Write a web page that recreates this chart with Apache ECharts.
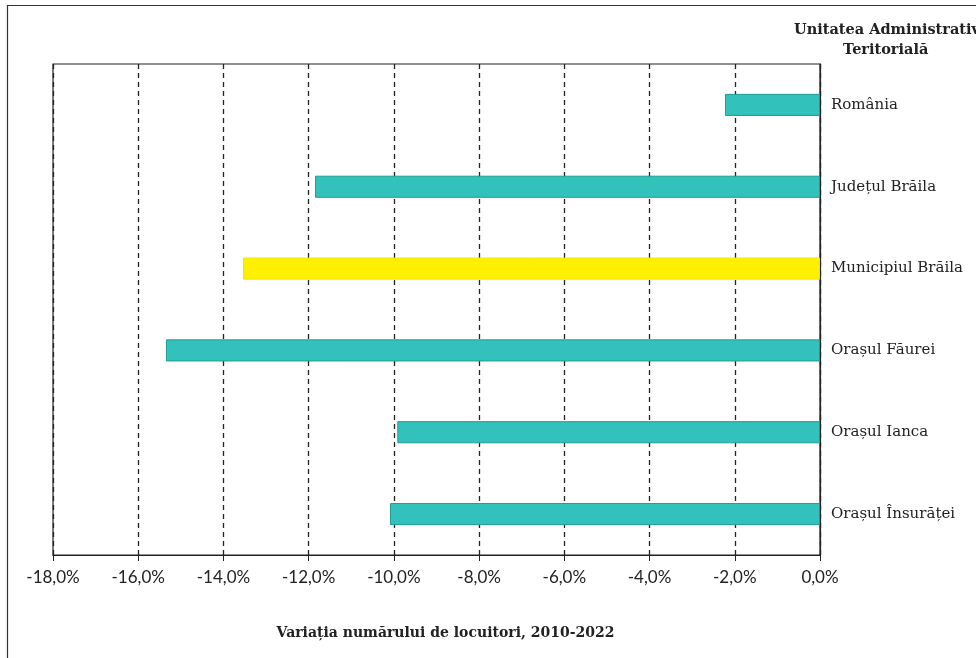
<!DOCTYPE html>
<html>
<head>
<meta charset="utf-8">
<script src="https://cdn.jsdelivr.net/npm/echarts@6/dist/echarts.min.js"></script>
<style>
  html, body { margin: 0; padding: 0; background: #fff; }
  #chart { width: 976px; height: 658px; }
</style>
</head>
<body>
<div id="chart"></div>
<script>
// Population change 2010-2022, by administrative-territorial unit
const categories = ['România', 'Județul Brăila', 'Municipiul Brăila', 'Orașul Făurei', 'Orașul Ianca', 'Orașul Însurăței'];
const variation = [-2.23, -11.85, -13.54, -15.35, -9.92, -10.09];
const highlighted = 'Municipiul Brăila';
const xTicks = { min: -18, max: 0, step: 2 };

const TEAL = '#33c2bb';
const TEAL_EDGE = '#1e9c96';
const YELLOW = '#fff000';
const YELLOW_EDGE = '#f2e400';

const serif = '"DejaVu Serif", "Liberation Serif", serif';
const sans = 'Lato, "Open Sans", sans-serif';

const chart = echarts.init(document.getElementById('chart'));

chart.setOption({
  animation: false,
  backgroundColor: '#ffffff',
  graphic: [
    {
      type: 'rect',
      shape: { x: 7.5, y: 5.5, width: 1000, height: 700 },
      style: { fill: 'none', stroke: '#333', lineWidth: 1.2 },
      silent: true
    },
    {
      type: 'text',
      left: 794, top: 23,
      style: {
        text: 'Unitatea Administrativ',
        font: 'bold 14.5px ' + serif,
        fill: '#222'
      }
    },
    {
      type: 'text',
      left: 843, top: 43,
      style: {
        text: 'Teritorială',
        font: 'bold 14.5px ' + serif,
        fill: '#222'
      }
    }
  ],
  grid: {
    left: 53, right: 156, top: 64, bottom: 103,
    show: true,
    borderColor: '#222',
    borderWidth: 1.2,
    backgroundColor: 'transparent'
  },
  xAxis: {
    type: 'value',
    min: xTicks.min,
    max: xTicks.max,
    interval: xTicks.step,
    name: 'Variația numărului de locuitori, 2010-2022',
    nameLocation: 'middle',
    nameGap: 71,
    nameTextStyle: {
      fontFamily: serif, fontWeight: 'bold', fontSize: 14, color: '#222',
      padding: [0, 0, 0, 18]
    },
    axisLine: { show: true, lineStyle: { color: '#222', width: 1.2 } },
    axisTick: { show: true, length: 6, lineStyle: { color: '#222' } },
    axisLabel: {
      margin: 14,
      fontFamily: sans,
      fontSize: 17,
      color: '#222',
      formatter: v => v.toFixed(1).replace('.', ',') + '%'
    },
    splitLine: {
      show: true,
      lineStyle: { color: '#222', type: [5, 4], width: 1.3 }
    }
  },
  yAxis: {
    type: 'category',
    data: categories,
    inverse: true,
    position: 'right',
    axisLine: { show: true, onZero: false, lineStyle: { color: '#222', width: 1.2 } },
    axisTick: { show: false },
    axisLabel: {
      margin: 11,
      fontFamily: serif,
      fontSize: 15,
      color: '#222'
    },
    splitLine: { show: false }
  },
  series: [{
    type: 'bar',
    barWidth: '27%',
    data: variation.map((v, i) => ({
      value: v,
      itemStyle: categories[i] === highlighted
        ? { color: YELLOW, borderColor: YELLOW_EDGE, borderWidth: 1 }
        : { color: TEAL, borderColor: TEAL_EDGE, borderWidth: 1 }
    }))
  }]
});
</script>
</body>
</html>
